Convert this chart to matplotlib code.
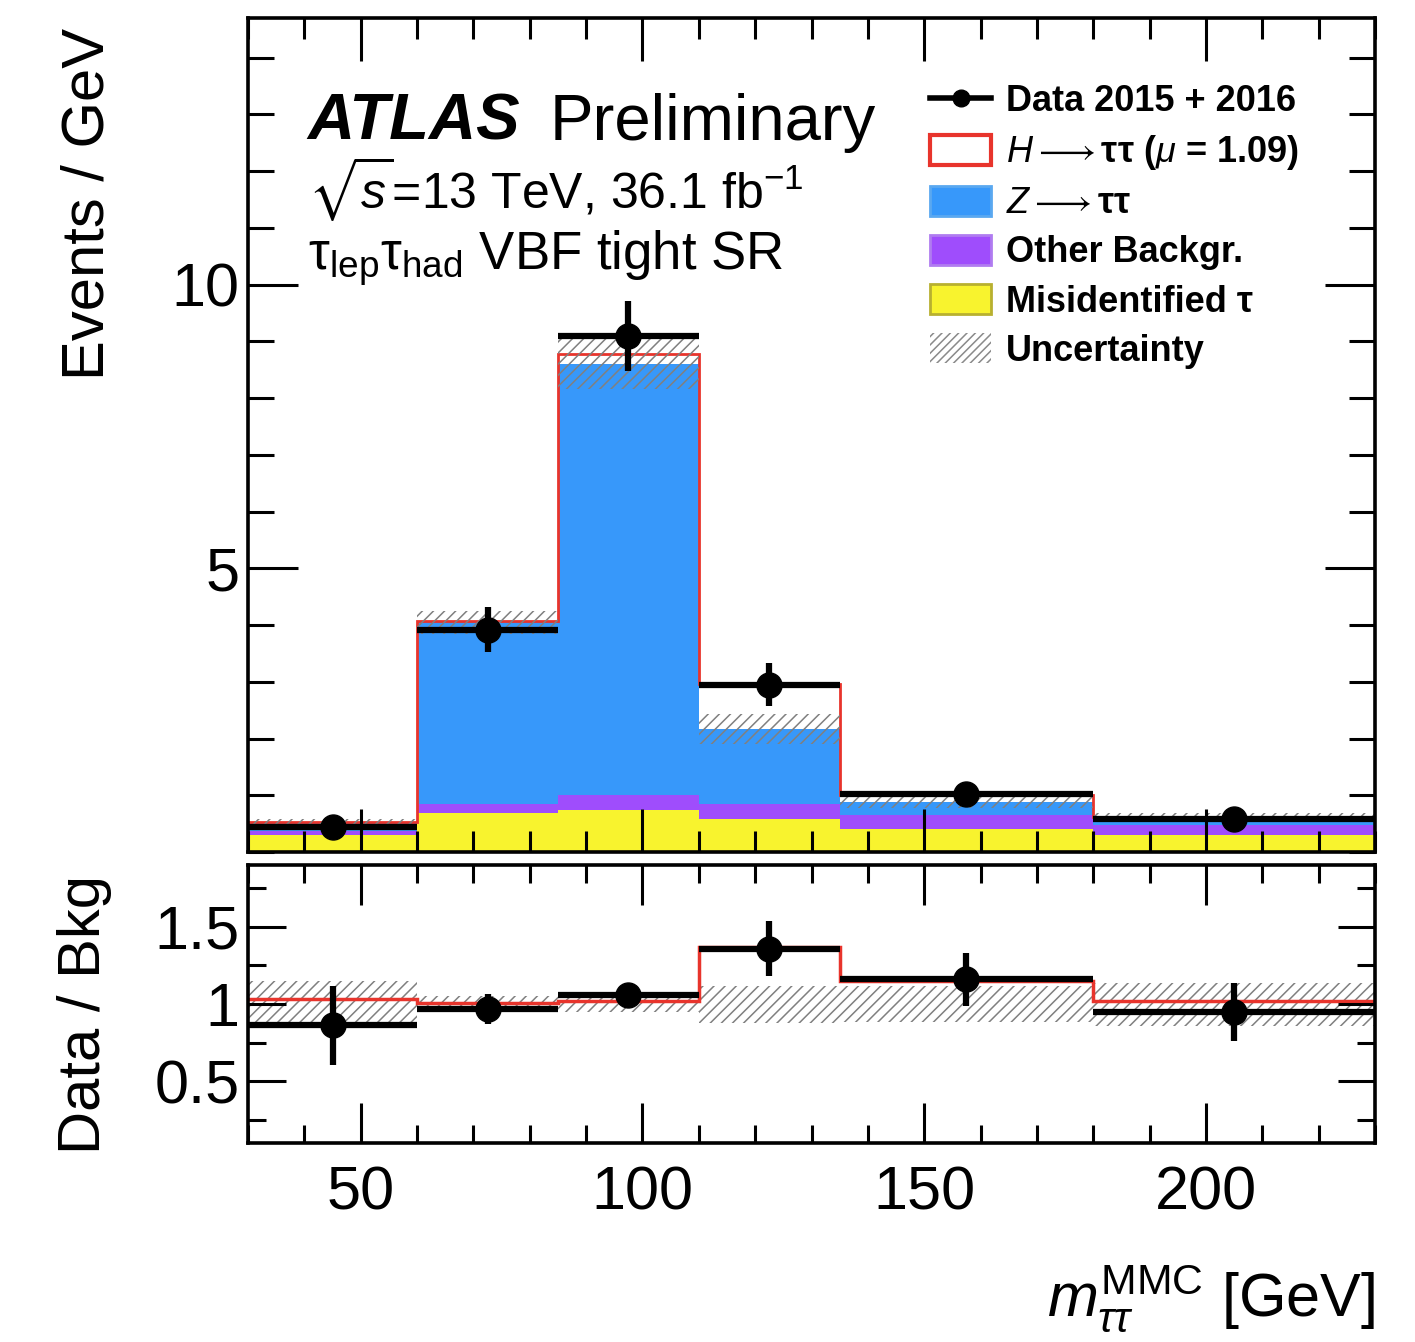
"""ATLAS H->tautau lep-had VBF tight SR, MMC mass distribution"""
import numpy as np
import matplotlib
matplotlib.use("Agg")
import matplotlib.pyplot as plt
from matplotlib.patches import Patch
from matplotlib.lines import Line2D
from matplotlib.ticker import MultipleLocator, FixedLocator, FuncFormatter

plt.rcParams['font.family'] = ['Liberation Sans', 'DejaVu Sans']
plt.rcParams['mathtext.fontset'] = 'custom'
plt.rcParams['mathtext.rm'] = 'Liberation Sans'
plt.rcParams['mathtext.it'] = 'Liberation Sans:italic'
plt.rcParams['mathtext.bf'] = 'Liberation Sans:bold'
plt.rcParams['mathtext.fallback'] = 'stixsans'
plt.rcParams['hatch.color'] = '#808080'
plt.rcParams['hatch.linewidth'] = 1.1

# Bin edges (GeV) and per-GeV yields
edges = [30, 60, 85, 110, 135, 180, 230]
fake = [0.30, 0.69, 0.74, 0.58, 0.41, 0.30]      # Misidentified tau
other = [0.07, 0.16, 0.27, 0.26, 0.24, 0.17]     # Other backgr.
ztt = [0.14, 3.20, 7.60, 1.33, 0.23, 0.14]       # Z -> tautau
higgs = [0.015, 0.03, 0.16, 0.80, 0.13, 0.01]    # H -> tautau (mu = 1.09)
bkg_unc = [0.075, 0.20, 0.45, 0.26, 0.105, 0.085]
data = [0.44, 3.92, 9.10, 2.95, 1.02, 0.58]
data_err = [0.13, 0.40, 0.62, 0.38, 0.15, 0.115]

labels = {'D': "Data 2015 + 2016",
          'H': "$H\\longrightarrow$ττ ($\\mu$ = 1.09)",
          'Z': "$Z\\longrightarrow$ττ",
          'O': "Other Backgr.",
          'F': "Misidentified τ",
          'U': "Uncertainty"}

C_Z = '#3798fa'
C_O = '#9f4dfc'
C_F = '#f8f32e'
C_H = '#e8342c'
C_HATCH = '#808080'


def style_axis(a, maj_len, min_len, xmaj, xmin_):
    for s in a.spines.values():
        s.set_linewidth(2.6)
    a.tick_params(which='both', direction='in', top=True, right=True,
                  width=2.2, labelsize=44)
    a.tick_params(axis='y', which='major', length=maj_len[1])
    a.tick_params(axis='y', which='minor', length=min_len[1])
    a.tick_params(axis='x', which='major', length=maj_len[0])
    a.tick_params(axis='x', which='minor', length=min_len[0])
    a.xaxis.set_major_locator(MultipleLocator(xmaj))
    a.xaxis.set_minor_locator(MultipleLocator(xmin_))


def main():
    e = np.array(edges, dtype=float)
    centers = 0.5 * (e[1:] + e[:-1])
    halfw = 0.5 * (e[1:] - e[:-1])
    f = np.array(fake)
    o = np.array(other)
    z = np.array(ztt)
    h = np.array(higgs)
    bkg = f + o + z
    sb = bkg + h
    unc = np.array(bkg_unc)
    d = np.array(data)
    derr = np.array(data_err)

    fig = plt.figure(figsize=(14.15, 13.42), dpi=100)
    ax = fig.add_axes([0.1753, 0.3651, 0.7964, 0.6215])
    rax = fig.add_axes([0.1753, 0.1483, 0.7964, 0.2071], sharex=ax)

    # stacked histogram
    ax.stairs(f, e, baseline=0, fill=True, color=C_F, lw=0)
    ax.stairs(f + o, e, baseline=f, fill=True, color=C_O, lw=0)
    ax.stairs(bkg, e, baseline=f + o, fill=True, color=C_Z, lw=0)
    ax.stairs(sb, e, baseline=bkg, fill=True, color='white', lw=0)
    ax.stairs(sb, e, baseline=None, color=C_H, lw=2.0)

    lo = np.append(bkg - unc, (bkg - unc)[-1])
    hi = np.append(bkg + unc, (bkg + unc)[-1])
    ax.fill_between(e, lo, hi, step='post', facecolor='none',
                    edgecolor=C_HATCH, hatch='///', lw=0)

    ax.errorbar(centers, d, xerr=halfw, yerr=derr, fmt='o', color='k',
                ms=18, elinewidth=4.5, capsize=0, zorder=5)

    ax.set_xlim(30, 230)
    ax.set_ylim(0, 14.7)
    style_axis(ax, (31, 36), (15, 19), 50, 10)
    ax.yaxis.set_major_locator(FixedLocator([5, 10]))
    ax.yaxis.set_minor_locator(MultipleLocator(1))
    ax.tick_params(axis='x', labelbottom=False)
    ax.tick_params(axis='y', pad=6)

    # text block
    ax.text(0.053, 0.854, "ATLAS", transform=ax.transAxes, fontsize=47,
            fontweight='bold', fontstyle='italic')
    ax.text(0.268, 0.854, "Preliminary", transform=ax.transAxes, fontsize=47)
    ax.text(0.053, 0.772, r"$\sqrt{s}$=13 TeV, 36.1 fb$^{-1}$",
            transform=ax.transAxes, fontsize=36)
    ax.text(0.053, 0.698, r"τ$_{\rm lep}$τ$_{\rm had}$ VBF tight SR",
            transform=ax.transAxes, fontsize=38)

    # legend
    handles = [
        Line2D([], [], color='k', marker='o', ms=12, lw=4),
        Patch(facecolor='white', edgecolor=C_H, lw=3),
        Patch(facecolor=C_Z, edgecolor='#5aa8f0', lw=2),
        Patch(facecolor=C_O, edgecolor='#b07cf0', lw=2),
        Patch(facecolor=C_F, edgecolor='#b8b030', lw=2),
        Patch(facecolor='none', edgecolor='#8a8a8a', hatch='////', lw=0),
    ]
    ax.legend(handles, [labels[k] for k in 'DHZOFU'],
              loc='upper left', bbox_to_anchor=(0.605, 0.921),
              frameon=False, borderpad=0, borderaxespad=0,
              prop={'size': 26, 'weight': 'bold'},
              handlelength=1.7, handleheight=0.9, handletextpad=0.4,
              labelspacing=0.38)

    # ratio panel
    r_unc = unc / bkg
    rlo = np.append(1 - r_unc, (1 - r_unc)[-1])
    rhi = np.append(1 + r_unc, (1 + r_unc)[-1])
    rax.fill_between(e, rlo, rhi, step='post', facecolor='none',
                     edgecolor=C_HATCH, hatch='///', lw=0)
    rax.stairs(sb / bkg, e, baseline=None, color=C_H, lw=2.5)
    rax.errorbar(centers, d / bkg, xerr=halfw, yerr=derr / bkg, fmt='o',
                 color='k', ms=18, elinewidth=4.5, capsize=0, zorder=5)

    rax.set_ylim(0.1, 1.9)
    style_axis(rax, (29, 27), (13, 13), 50, 10)
    rax.yaxis.set_major_locator(MultipleLocator(0.5))
    rax.yaxis.set_minor_locator(MultipleLocator(0.25))
    rax.yaxis.set_major_formatter(FuncFormatter(lambda v, p: "%g" % v))
    rax.tick_params(axis='x', pad=16)
    rax.tick_params(axis='y', pad=6)
    rax.set_xlim(30, 230)

    fig.text(88 / 1415, 1 - 28 / 1342, "Events / GeV", rotation=90,
             ha='center', va='top', fontsize=43)
    fig.text(85 / 1415, 1 - 1015 / 1342, "Data / Bkg", rotation=90,
             ha='center', va='center', fontsize=43)
    fig.text(1375 / 1415, 1 - 1316 / 1342, r"$m_{\tau\tau}^{\rm MMC}$ [GeV]",
             ha='right', va='baseline', fontsize=44)

    fig.savefig('out.png', dpi=100)


if __name__ == '__main__':
    main()
